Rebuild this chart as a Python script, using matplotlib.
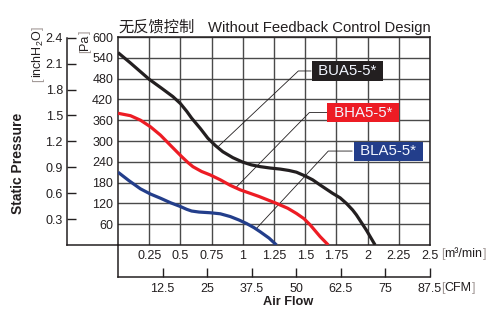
import numpy as np
import matplotlib
matplotlib.use("Agg")
import matplotlib.pyplot as plt

plt.rcParams['font.family'] = ['Liberation Sans', 'Noto Sans CJK SC', 'DejaVu Sans']
plt.rcParams['mathtext.fontset'] = 'custom'
plt.rcParams['mathtext.rm'] = 'Liberation Sans'

# P-Q curves, air flow in m3/min and static pressure in Pa
flow_bua = [0, 0.1, 0.25, 0.35, 0.44, 0.5, 0.55, 0.59, 0.66, 0.72, 0.78, 0.84, 0.92, 1.0, 1.07,
            1.14, 1.22, 1.3, 1.37, 1.43, 1.5, 1.56, 1.62, 1.72, 1.78, 1.83, 1.88, 1.91, 1.99, 2.06]
pa_bua = [555, 525, 478, 452, 428, 408, 386, 366, 336, 308, 287, 269, 252, 239, 231,
          226, 222, 219, 215, 210, 199, 188, 173, 149, 136, 120, 101, 87, 43, 0]

flow_bha = [0, 0.1, 0.18, 0.26, 0.34, 0.43, 0.51, 0.56, 0.6, 0.67, 0.74, 0.82, 0.9, 0.98, 1.13,
            1.27, 1.36, 1.43, 1.49, 1.54, 1.62, 1.685]
pa_bha = [380, 373, 360, 341, 317, 284, 255, 238, 226, 212, 202, 188, 172, 159, 140,
          120, 106, 91, 76, 58, 24, 0]

flow_bla = [0, 0.09, 0.18, 0.26, 0.34, 0.42, 0.5, 0.55, 0.59, 0.65, 0.74, 0.82, 0.9, 0.97, 1.03,
            1.09, 1.14, 1.21, 1.27]
pa_bla = [210, 185, 162, 147, 135, 122, 111, 103, 98, 95, 93, 90, 82, 72, 62,
          50, 38, 20, 0]

models = ['BUA5-5*', 'BHA5-5*', 'BLA5-5*']

flow_ticks = [0.25, 0.5, 0.75, 1, 1.25, 1.5, 1.75, 2, 2.25, 2.5]
flow_labels = ['0.25', '0.5', '0.75', '1', '1.25', '1.5', '1.75', '2', '2.25', '2.5']
pa_ticks = [60, 120, 180, 240, 300, 360, 420, 480, 540, 600]
inch_ticks = [0.3, 0.6, 0.9, 1.2, 1.5, 1.8, 2.1, 2.4]
cfm_ticks = [12.5, 25, 37.5, 50, 62.5, 75, 87.5]
cfm_labels = ['12.5', '25', '37.5', '50', '62.5', '75', '87.5']

PA_PER_INCH = 249.089

INK = '#231f20'
GREY = '#a39a98'
colors = ['#231f20', '#ed1c24', '#233e8b']
TICK_SIZE = 9

W, H = 499, 322
fig = plt.figure(figsize=(W / 100, H / 100), dpi=100)


def box(x0, y0, x1, y1):
    return [x0 / W, 1 - y1 / H, (x1 - x0) / W, (y1 - y0) / H]


ax = fig.add_axes(box(118, 37, 430, 245))
ax_in = fig.add_axes(box(67, 37, 118, 245))
ax_cfm = fig.add_axes(box(118, 245, 430, 277))

# main P-Q grid
ax.set_xlim(0, 2.5)
ax.set_ylim(0, 600)
ax.set_xticks(flow_ticks)
ax.set_xticklabels(flow_labels)
ax.set_yticks(pa_ticks)
ax.tick_params(length=0, labelsize=TICK_SIZE, colors=INK, pad=3.5)
ax.grid(True, color='#4a4a4a', lw=1.0)
for s in ax.spines.values():
    s.set_color(INK)
    s.set_linewidth(1.1)

for fx, fy, c in zip([flow_bua, flow_bha, flow_bla], [pa_bua, pa_bha, pa_bla], colors):
    ax.plot(fx, fy, color=c, lw=2.3, solid_joinstyle='round', solid_capstyle='butt', zorder=3)

# callout labels: (box centre, box left edge, elbow, curve point)
callouts = [
    ((1.838, 502), 1.546, 1.445, (0.80, 283)),
    ((1.966, 382), 1.675, 1.533, (0.94, 164)),
    ((2.167, 271), 1.875, 1.685, (1.11, 48)),
]
for name, c, (centre, left, elbow, end) in zip(models, colors, callouts):
    ax.plot([left, elbow, end[0]], [centre[1], centre[1], end[1]], color=INK, lw=0.6, zorder=2)
    ax.text(centre[0], centre[1], ' ' + name + ' ', ha='center', va='center', color='#f2f6ff',
            fontsize=10.8, zorder=4,
            bbox=dict(boxstyle='square,pad=0.17', fc=c, ec='none'))

# inch H2O scale
ax_in.patch.set_visible(False)
ax_in.set_ylim(0, 600 / PA_PER_INCH)
ax_in.set_xlim(0, 1)
ax_in.set_yticks(inch_ticks)
ax_in.set_yticklabels([f'{v:.1f}' for v in inch_ticks])
ax_in.set_xticks([])
ax_in.tick_params(axis='y', direction='in', length=6.5, width=1.0, colors=INK,
                  labelsize=TICK_SIZE, pad=3)
for k in ['top', 'right']:
    ax_in.spines[k].set_visible(False)
for k in ['left', 'bottom']:
    ax_in.spines[k].set_color(INK)
    ax_in.spines[k].set_linewidth(1.1)
ax_in.spines['left'].set_bounds(0, 2.4)

# CFM scale
ax_cfm.patch.set_visible(False)
ax_cfm.set_xlim(0, 87.5)
ax_cfm.set_ylim(0, 1)
ax_cfm.set_xticks(cfm_ticks)
ax_cfm.set_xticklabels(cfm_labels)
ax_cfm.set_yticks([])
ax_cfm.tick_params(axis='x', direction='in', length=6.5, width=1.0, colors=INK,
                   labelsize=TICK_SIZE, pad=4)
for k in ['top', 'right']:
    ax_cfm.spines[k].set_visible(False)
for k in ['left', 'bottom']:
    ax_cfm.spines[k].set_color(INK)
    ax_cfm.spines[k].set_linewidth(1.1)


def bracketed(x, y, inner, size):
    """Unit text with light brackets, chained piece by piece."""
    t = fig.text(x, y, '[', color=GREY, fontsize=size, va='center')
    for piece, col in [(inner, INK), (']', GREY)]:
        t = ax.annotate(piece, xy=(1, 0.5), xycoords=t, va='center', ha='left',
                        color=col, fontsize=size, annotation_clip=False)
    return t


def bracketed_v(x, y, inner, size):
    t = fig.text(x, y, '[', color=GREY, fontsize=size, rotation=90, ha='center', va='bottom')
    for piece, col in [(inner, INK), (']', GREY)]:
        t = ax.annotate(piece, xy=(0.5, 1), xycoords=t, va='bottom', ha='center', rotation=90,
                        color=col, fontsize=size, annotation_clip=False)
    return t


bracketed(441 / W, 1 - 254 / H, 'm³/min', TICK_SIZE)
bracketed(441 / W, 1 - 288 / H, 'CFM', TICK_SIZE)
bracketed_v(38 / W, 1 - 82 / H, 'inchH$_2$O', TICK_SIZE)
bracketed_v(85 / W, 1 - 53 / H, 'Pa', TICK_SIZE)

fig.text(18 / W, 1 - 163 / H, 'Static Pressure', rotation=90, ha='center', va='center',
         fontsize=10, fontweight='bold', color=INK)
fig.text(288 / W, 1 - 302 / H, 'Air Flow', ha='center', va='center',
         fontsize=9.2, fontweight='bold', color=INK)

# title
fig.text(118 / W, 1 - 32 / H, '无反馈控制', family='Noto Sans CJK SC', fontsize=11,
         color=INK, va='baseline')
fig.text(208 / W, 1 - 32 / H, 'Without Feedback Control Design', fontsize=10.7,
         color=INK, va='baseline')

fig.savefig('out.png', dpi=100)
